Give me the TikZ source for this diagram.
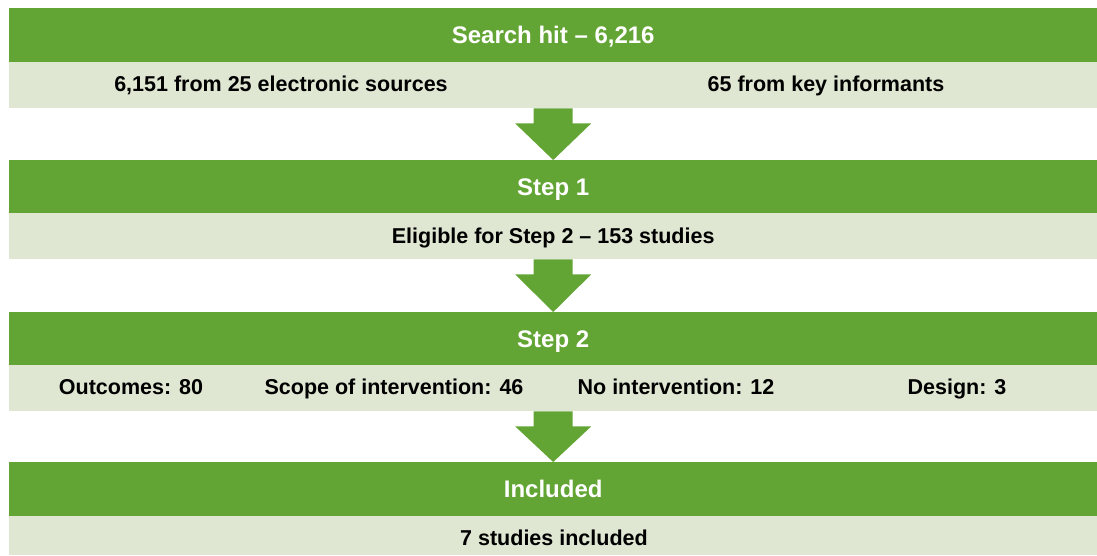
\documentclass[tikz,border=0pt]{standalone}
\usepackage{fontspec}
\setmainfont{Liberation Sans}
\usetikzlibrary{calc}
\definecolor{gbar}{HTML}{63A534}
\definecolor{lbar}{HTML}{DFE7D3}
\begin{document}
\begin{tikzpicture}[x=1pt,y=-1pt,
  hdr/.style={fill=gbar,draw=none,minimum width=1088pt,inner sep=0pt,text=white,font=\fontsize{24}{28}\selectfont\bfseries,text height=17.2pt,text depth=0pt,anchor=north west},
  sub/.style={fill=lbar,draw=none,minimum width=1088pt,inner sep=0pt,anchor=north west,text=black,font=\fontsize{21.5}{25}\selectfont\bfseries,text height=15.4pt,text depth=0pt},
  lbl/.style={text=black,font=\fontsize{21.5}{25}\selectfont\bfseries,inner sep=0pt,text height=15.4pt,text depth=0pt}]
\useasboundingbox (0,0) rectangle (1097,555);
% bar 1
\node[hdr,minimum height=54pt] (h1) at (9,8) {Search hit -- 6,216};
\node[sub,minimum height=46pt] (s1) at (9,62) {};
\node[lbl] (s1a) at (281,84) {6,151 from 25 electronic sources};
\node[lbl] (s1b) at (826,84) {65 from key informants};
% bar 2
\node[hdr,minimum height=53pt] (h2) at (9,160) {Step 1};
\node[sub,minimum height=46pt] (s2) at (9,213) {Eligible for Step 2 -- 153 studies};
% bar 3
\node[hdr,minimum height=53pt] (h3) at (9,312) {Step 2};
\node[sub,minimum height=46pt] (s3) at (9,365) {};
\node[lbl] (o1) at (131,387) {Outcomes: 80};
\node[lbl] (o2) at (394,387) {Scope of intervention: 46};
\node[lbl] (o3) at (676,387) {No intervention: 12};
\node[lbl] (o4) at (957,387) {Design: 3};
% bar 4
\node[hdr,minimum height=54pt] (h4) at (9,462) {Included};
\node[sub,minimum height=39pt] (s4) at (9,516) {};
\node[lbl] (s4a) at (554,538) {7 studies included};
% arrows
\foreach \a/\b in {s1/h2,s2/h3,s3/h4}{
  \path (\a.south) coordinate (A);
  \path (\b.north) coordinate (B);
  \fill[gbar] ($(A)+(-19.5,0)$) -- ($(A)+(19.5,0)$) -- ($(A)+(19.5,15)$) -- ($(A)+(38,15)$) -- (B) -- ($(A)+(-38,15)$) -- ($(A)+(-19.5,15)$) -- cycle;
}
\end{tikzpicture}
\end{document}
